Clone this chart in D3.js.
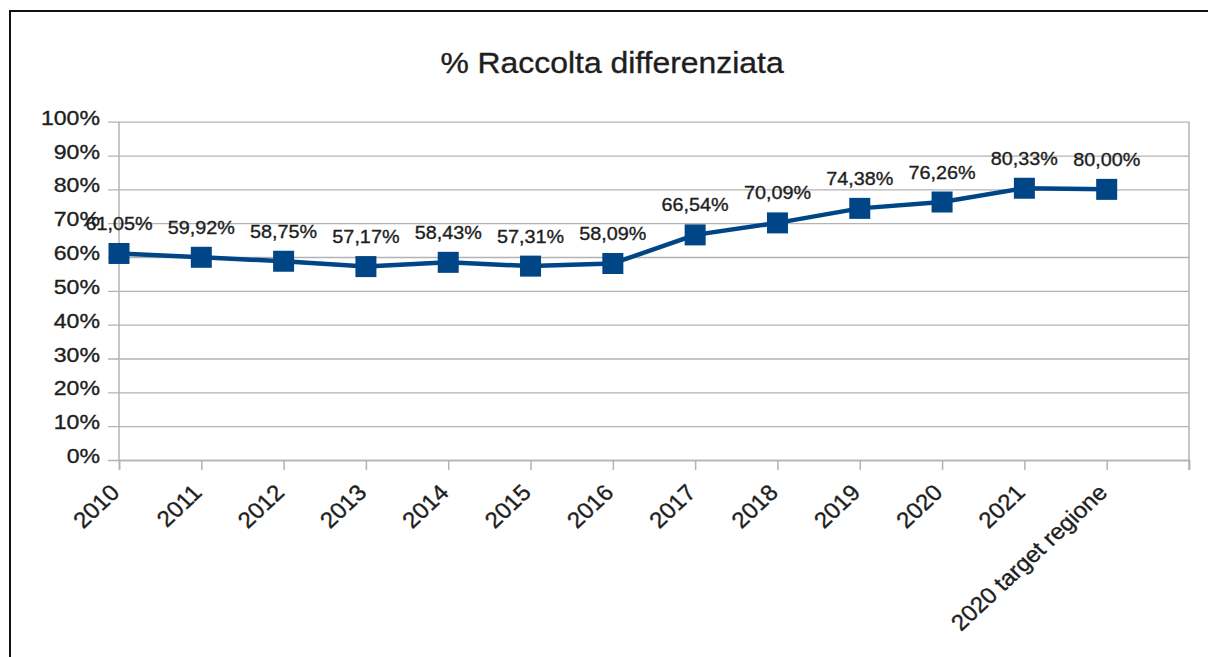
<!DOCTYPE html>
<html>
<head>
<meta charset="utf-8">
<script src="https://cdn.jsdelivr.net/npm/d3@7"></script>
<style>
  html, body { margin: 0; padding: 0; background: #fff; }
  svg { display: block; }
  text { font-family: "Liberation Sans", Arial, sans-serif; fill: #1e1e1e; stroke: #1e1e1e; stroke-width: 0.35px; }
</style>
</head>
<body>
<svg id="chart" width="1208" height="657"></svg>
<script>
const title = "% Raccolta differenziata";
const categories = ["2010", "2011", "2012", "2013", "2014", "2015", "2016", "2017", "2018", "2019", "2020", "2021", "2020 target regione"];
const values = [61.05, 59.92, 58.75, 57.17, 58.43, 57.31, 58.09, 66.54, 70.09, 74.38, 76.26, 80.33, 80.00];
const yTicks = [0, 10, 20, 30, 40, 50, 60, 70, 80, 90, 100];

const svg = d3.select("#chart");
const W = 1208, H = 657;
const plot = { left: 119, right: 1189, top: 121.7, bottom: 460 };
const SX = 1.1; // horizontal text stretch of the source image

const x = d3.scaleLinear().domain([0, categories.length]).range([plot.left, plot.right]);
const y = d3.scaleLinear().domain([0, 100]).range([plot.bottom, plot.top]);

// outer frame
svg.append("rect").attr("x", 10).attr("y", 11).attr("width", W + 20).attr("height", H + 20)
  .attr("fill", "#fff").attr("stroke", "#111").attr("stroke-width", 2);

// title
svg.append("text")
  .attr("transform", `translate(612,73) scale(${SX},1)`)
  .attr("text-anchor", "middle").attr("font-size", 29).text(title);

const grid = "#b3b3b3";
// horizontal gridlines + y tick marks
const yAxis = d3.axisLeft(y).tickValues(yTicks).tickSize(-(plot.right - plot.left)).tickFormat("");
const gy = svg.append("g").attr("transform", `translate(${plot.left},0)`).call(yAxis);
gy.select(".domain").remove();
gy.selectAll(".tick line").attr("stroke", grid).attr("stroke-width", 1.3).attr("x1", -11);

// y labels
svg.append("g").selectAll("text").data(yTicks).join("text")
  .attr("transform", d => `translate(100,${y(d) + 3}) scale(${SX},1)`)
  .attr("text-anchor", "end").attr("font-size", 21)
  .text(d => d + "%");

// left axis line and right border
svg.append("line").attr("x1", plot.left).attr("x2", plot.left).attr("y1", plot.top).attr("y2", plot.bottom)
  .attr("stroke", grid).attr("stroke-width", 1.5);
svg.append("line").attr("x1", plot.right).attr("x2", plot.right).attr("y1", plot.top).attr("y2", plot.bottom + 10)
  .attr("stroke", grid).attr("stroke-width", 1.5);

// x axis with ticks
const xAxis = d3.axisBottom(x).tickValues(d3.range(categories.length + 1)).tickSize(10).tickFormat("");
const gx = svg.append("g").attr("transform", `translate(0,${plot.bottom})`).call(xAxis);
gx.select(".domain").attr("stroke", grid).attr("stroke-width", 1.5);
gx.selectAll(".tick line").attr("stroke", grid).attr("stroke-width", 1.5);

// x labels rotated
svg.append("g").selectAll("text").data(categories).join("text")
  .attr("transform", (d, i) => `translate(${x(i) + 2},494) scale(1.07,1) rotate(-45)`)
  .attr("text-anchor", "end").attr("font-size", 22.5)
  .text(d => d);

// line
const color = "#004586";
const pts = values.map((v, i) => [x(i), y(v)]);
svg.append("path").attr("d", d3.line()(pts))
  .attr("fill", "none").attr("stroke", color).attr("stroke-width", 4.5).attr("stroke-linejoin", "round");

// markers
const S = 21;
svg.append("g").selectAll("rect").data(values).join("rect")
  .attr("x", (d, i) => x(i) - S / 2).attr("y", d => y(d) - S / 2)
  .attr("width", S).attr("height", S).attr("fill", color);

// data labels
const fmt = d3.format(".2f");
svg.append("g").selectAll("text").data(values).join("text")
  .attr("transform", (d, i) => `translate(${x(i)},${y(d) - 23.5}) scale(${SX},1)`)
  .attr("text-anchor", "middle").attr("font-size", 18)
  .text(d => fmt(d).replace(".", ",") + "%");
</script>
</body>
</html>
